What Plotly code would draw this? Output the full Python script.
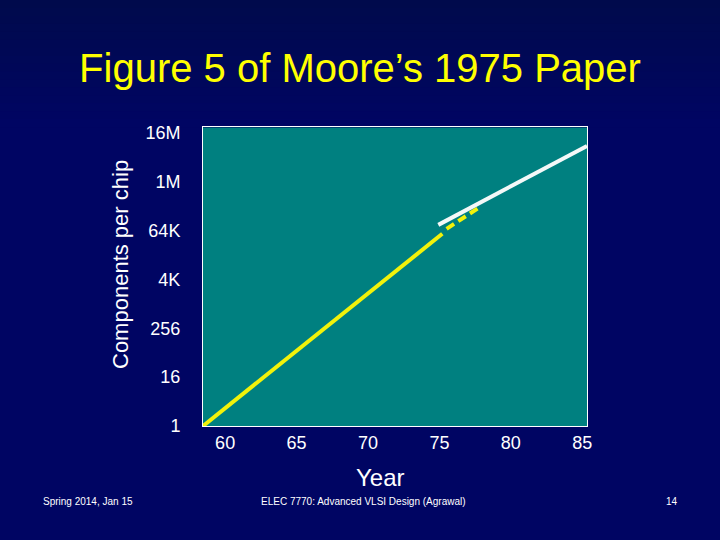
import plotly.graph_objects as go

# Data
tick_years = [60, 65, 70, 75, 80, 85]
tick_year_labels = ["60", "65", "70", "75", "80", "85"]
tick_counts = [1, 16, 256, 4096, 65536, 1048576, 16777216]
tick_count_labels = ["1", "16", "256", "4K", "64K", "1M", "16M"]

solid_years = [58.45, 75.2]
solid_counts = [1, 55000]
dashed_years = [75.5, 77.9]
dashed_counts = [72700, 262000]
white_years = [74.92, 85.33]
white_counts = [91400, 8100000]

W, H = 720, 540
L, R, T, B = 203, 133, 127, 114
pw, ph = W - L - R, H - T - B

def px(x):
    return (x - L) / pw

def py(y):
    return (H - B - y) / ph

FONT = "Liberation Sans, Arial, sans-serif"
BG = "#000563"

fig = go.Figure()
fig.add_trace(go.Scatter(x=solid_years, y=solid_counts, mode="lines",
                         line=dict(color="#f2f20a", width=4), showlegend=False))
fig.add_trace(go.Scatter(x=dashed_years, y=dashed_counts, mode="lines",
                         line=dict(color="#f2f20a", width=4, dash="9px,5px"), showlegend=False))
fig.add_trace(go.Scatter(x=white_years, y=white_counts, mode="lines",
                         line=dict(color="#f4f8f8", width=4), showlegend=False))

# subtle vertical gradient of the slide background above the plot area
shapes = []
nb = 16
top_rgb = (0, 10, 76)
bot_rgb = (0, 5, 99)
for i in range(nb):
    t = i / (nb - 1)
    c = tuple(round(top_rgb[k] + (bot_rgb[k] - top_rgb[k]) * t) for k in range(3))
    y0 = T * i / nb
    y1 = T * (i + 1) / nb + 0.5
    shapes.append(dict(type="rect", xref="paper", yref="paper", layer="below",
                       x0=px(0), x1=px(W), y0=py(y1), y1=py(y0),
                       fillcolor="rgb(%d,%d,%d)" % c, line=dict(width=0)))

annotations = [
    dict(text="Components per chip", x=px(120), y=py(265), textangle=-90,
         font=dict(size=22, color="white", family=FONT)),
    dict(text="Year", x=px(380), y=py(477),
         font=dict(size=24, color="white", family=FONT)),
    dict(text="Spring 2014, Jan 15", x=px(88), y=py(501),
         font=dict(size=10, color="white", family=FONT)),
    dict(text="ELEC 7770: Advanced VLSI Design (Agrawal)", x=px(363), y=py(501),
         font=dict(size=10, color="white", family=FONT)),
    dict(text="14", x=px(672), y=py(501),
         font=dict(size=10, color="white", family=FONT)),
]
for a in annotations:
    a.update(xref="paper", yref="paper", showarrow=False, xanchor="center", yanchor="middle")

fig.update_layout(
    width=W, height=H,
    margin=dict(l=L, r=R, t=T, b=B),
    paper_bgcolor=BG,
    plot_bgcolor="#008080",
    title=dict(text="Figure 5 of Moore’s 1975 Paper", x=0.5, xref="container",
               y=1 - 68 / H, yref="container", xanchor="center", yanchor="middle",
               font=dict(size=40, color="#ffff00", family=FONT)),
    annotations=annotations,
    shapes=shapes,
    xaxis=dict(range=[58.45, 85.33], tickvals=tick_years, ticktext=tick_year_labels,
               showgrid=False, zeroline=False, showline=True, mirror=True,
               linecolor="white", linewidth=1, ticks="",
               tickfont=dict(size=18, color="white", family=FONT)),
    yaxis=dict(type="log", range=[0, 7.375], tickvals=tick_counts, ticktext=tick_count_labels,
               showgrid=False, zeroline=False, showline=True, mirror=True,
               linecolor="white", linewidth=1, ticks="", ticklabelstandoff=18,
               tickfont=dict(size=18, color="white", family=FONT)),
)

fig.write_html("out.html", config={"displayModeBar": False},
               post_script="document.body.style.margin='0';document.body.style.background='%s';" % BG)
